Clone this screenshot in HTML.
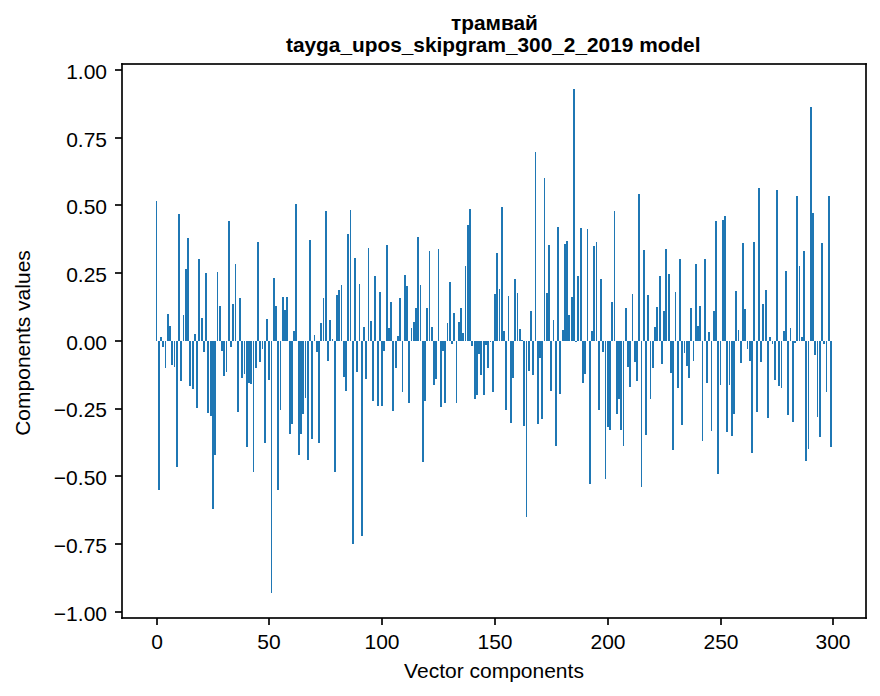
<!DOCTYPE html>
<html lang="ru">
<head>
<meta charset="utf-8">
<title>трамвай - tayga_upos_skipgram_300_2_2019 model</title>
<style>
html,body{margin:0;padding:0;background:#fff;font-family:"Liberation Sans",sans-serif;}
body{width:880px;height:696px;overflow:hidden;}
svg{display:block;}
</style>
</head>
<body>
<svg width="880" height="696" viewBox="0 0 880 696">
<title>Bar chart of vector components</title>
<rect x="0" y="0" width="880" height="696" fill="#fff"/>
<path d="M156 201h1v140h-1zM158 341h2v149h-2zM160 337h2v4h-2zM162 341h2v6h-2zM165 341h1v27h-1zM167 314h2v27h-2zM169 326h2v15h-2zM171 341h2v24h-2zM174 341h1v26h-1zM176 341h2v126h-2zM178 214h2v127h-2zM180 341h2v40h-2zM183 315h1v26h-1zM185 269h2v72h-2zM187 238h2v103h-2zM189 341h2v45h-2zM192 341h2v48h-2zM194 334h2v7h-2zM196 341h2v67h-2zM198 259h2v82h-2zM201 318h2v23h-2zM203 341h2v11h-2zM205 273h2v68h-2zM207 341h2v72h-2zM210 341h2v75h-2zM212 341h2v168h-2zM214 341h2v114h-2zM217 272h1v69h-1zM219 306h2v35h-2zM221 341h2v10h-2zM223 341h2v35h-2zM226 341h1v31h-1zM228 221h2v120h-2zM230 341h2v6h-2zM232 304h2v37h-2zM235 264h1v77h-1zM237 341h2v71h-2zM239 298h2v43h-2zM241 341h2v37h-2zM244 341h1v33h-1zM246 341h2v106h-2zM248 341h2v42h-2zM250 341h2v43h-2zM253 341h1v131h-1zM255 341h2v27h-2zM257 242h2v99h-2zM259 341h2v21h-2zM262 341h1v8h-1zM264 341h2v102h-2zM266 319h2v22h-2zM268 341h2v39h-2zM271 341h1v252h-1zM273 278h2v63h-2zM275 306h2v35h-2zM277 341h2v149h-2zM280 341h1v69h-1zM282 297h2v44h-2zM284 310h2v31h-2zM286 297h2v44h-2zM289 341h2v93h-2zM291 341h2v83h-2zM293 331h2v10h-2zM295 204h2v137h-2zM298 341h2v114h-2zM300 341h2v93h-2zM302 341h2v73h-2zM305 341h1v57h-1zM307 341h2v119h-2zM309 240h2v101h-2zM311 341h2v98h-2zM314 335h1v6h-1zM316 341h2v11h-2zM318 341h2v102h-2zM320 323h2v18h-2zM323 298h1v43h-1zM325 211h2v130h-2zM327 341h2v20h-2zM329 320h2v21h-2zM332 339h1v2h-1zM334 341h2v131h-2zM336 295h2v46h-2zM338 290h2v51h-2zM341 285h1v56h-1zM343 341h2v36h-2zM345 341h2v50h-2zM347 234h2v107h-2zM350 210h1v131h-1zM352 341h2v203h-2zM354 258h2v83h-2zM356 341h2v31h-2zM359 284h1v57h-1zM361 341h2v195h-2zM363 327h2v14h-2zM365 341h2v38h-2zM368 248h1v93h-1zM370 321h2v20h-2zM372 341h2v60h-2zM374 276h2v65h-2zM377 341h2v65h-2zM379 292h2v49h-2zM381 341h2v65h-2zM383 341h2v10h-2zM386 245h2v96h-2zM388 328h2v13h-2zM390 302h2v39h-2zM392 341h2v70h-2zM395 341h2v27h-2zM397 336h2v5h-2zM399 298h2v43h-2zM402 341h1v51h-1zM404 275h2v66h-2zM406 286h2v55h-2zM408 341h2v62h-2zM411 328h1v13h-1zM413 322h2v19h-2zM415 308h2v33h-2zM417 237h2v104h-2zM420 285h1v56h-1zM422 341h2v121h-2zM424 341h2v60h-2zM426 308h2v33h-2zM429 251h1v90h-1zM431 327h2v14h-2zM433 341h2v44h-2zM435 341h2v38h-2zM438 249h1v92h-1zM440 341h2v66h-2zM442 341h2v10h-2zM444 341h2v62h-2zM447 323h1v18h-1zM449 282h2v59h-2zM451 341h2v3h-2zM453 313h2v28h-2zM456 341h1v62h-1zM458 322h2v19h-2zM460 308h2v33h-2zM462 333h2v8h-2zM465 266h1v75h-1zM467 225h2v116h-2zM469 209h2v132h-2zM471 341h2v5h-2zM474 341h2v58h-2zM476 341h2v54h-2zM478 341h2v13h-2zM480 341h2v34h-2zM483 341h2v54h-2zM485 341h2v4h-2zM487 341h2v27h-2zM490 341h1v1h-1zM492 341h2v51h-2zM494 294h2v47h-2zM496 253h2v88h-2zM499 289h1v52h-1zM501 207h2v134h-2zM503 331h2v10h-2zM505 341h2v69h-2zM508 296h1v45h-1zM510 341h2v82h-2zM512 341h2v37h-2zM514 279h2v62h-2zM517 293h1v48h-1zM519 329h2v12h-2zM521 340h2v1h-2zM523 341h2v85h-2zM526 341h1v176h-1zM528 341h2v30h-2zM530 311h2v30h-2zM532 341h2v34h-2zM535 152h1v189h-1zM537 341h2v83h-2zM539 341h2v17h-2zM541 341h2v78h-2zM544 178h1v163h-1zM546 293h2v48h-2zM548 245h2v96h-2zM550 341h2v50h-2zM553 320h1v21h-1zM555 341h2v105h-2zM557 227h2v114h-2zM559 341h2v53h-2zM562 330h2v11h-2zM564 244h2v97h-2zM566 241h2v100h-2zM568 315h2v26h-2zM571 297h2v44h-2zM573 89h2v252h-2zM575 341h2v1h-2zM577 276h2v65h-2zM580 228h2v113h-2zM582 341h2v42h-2zM584 341h2v33h-2zM587 229h1v112h-1zM589 341h2v143h-2zM591 331h2v10h-2zM593 246h2v95h-2zM596 242h1v99h-1zM598 341h2v69h-2zM600 279h2v62h-2zM602 341h2v11h-2zM605 341h1v138h-1zM607 341h2v86h-2zM609 341h2v89h-2zM611 302h2v39h-2zM614 211h1v130h-1zM616 341h2v73h-2zM618 341h2v58h-2zM620 341h2v89h-2zM623 341h1v105h-1zM625 308h2v33h-2zM627 341h2v26h-2zM629 341h2v46h-2zM632 294h1v47h-1zM634 341h2v21h-2zM636 341h2v40h-2zM638 194h2v147h-2zM641 341h1v146h-1zM643 250h2v91h-2zM645 341h2v94h-2zM647 295h2v46h-2zM650 341h1v58h-1zM652 341h2v27h-2zM654 327h2v14h-2zM656 307h2v34h-2zM659 276h2v65h-2zM661 341h2v23h-2zM663 311h2v30h-2zM665 249h2v92h-2zM668 274h2v67h-2zM670 341h2v32h-2zM672 341h2v109h-2zM675 292h1v49h-1zM677 341h2v47h-2zM679 259h2v82h-2zM681 341h2v84h-2zM684 341h1v12h-1zM686 341h2v25h-2zM688 341h2v37h-2zM690 308h2v33h-2zM693 341h1v20h-1zM695 264h2v77h-2zM697 326h2v15h-2zM699 306h2v35h-2zM702 341h1v100h-1zM704 259h2v82h-2zM706 341h2v42h-2zM708 332h2v9h-2zM711 341h1v90h-1zM713 311h2v30h-2zM715 221h2v120h-2zM717 341h2v133h-2zM720 341h1v44h-1zM722 220h2v121h-2zM724 216h2v125h-2zM726 341h2v91h-2zM729 341h1v44h-1zM731 341h2v95h-2zM733 341h2v73h-2zM735 291h2v50h-2zM738 330h1v11h-1zM740 341h2v22h-2zM742 243h2v98h-2zM744 309h2v32h-2zM747 341h1v8h-1zM749 341h2v20h-2zM751 341h2v112h-2zM753 242h2v99h-2zM756 341h2v71h-2zM758 188h2v153h-2zM760 341h2v21h-2zM762 304h2v37h-2zM765 290h2v51h-2zM767 341h2v77h-2zM769 337h2v4h-2zM772 341h1v3h-1zM774 341h2v39h-2zM776 190h2v151h-2zM778 341h2v45h-2zM781 341h1v47h-1zM783 331h2v10h-2zM785 271h2v70h-2zM787 341h2v74h-2zM790 328h1v13h-1zM792 341h2v81h-2zM794 341h2v2h-2zM796 196h2v145h-2zM799 266h1v75h-1zM801 337h2v4h-2zM803 251h2v90h-2zM805 341h2v120h-2zM808 341h1v108h-1zM810 107h2v234h-2zM812 213h2v128h-2zM814 341h2v14h-2zM817 341h1v76h-1zM819 341h2v96h-2zM821 243h2v98h-2zM823 341h2v3h-2zM826 341h1v51h-1zM828 196h2v145h-2zM830 341h2v106h-2z" fill="#1f77b4" shape-rendering="crispEdges"/>
<g shape-rendering="crispEdges">
<rect x="121" y="63" width="2" height="556" fill="#000" fill-opacity="0.8353"/>
<rect x="865" y="63" width="2" height="556" fill="#000" fill-opacity="0.8353"/>
<rect x="123" y="63" width="742" height="2" fill="#000" fill-opacity="0.8353"/>
<rect x="123" y="617" width="742" height="2" fill="#000" fill-opacity="0.8353"/>
<rect x="121" y="63" width="1" height="1" fill="rgb(23,23,23)"/>
<rect x="122" y="63" width="1" height="1" fill="rgb(12,12,12)"/>
<rect x="121" y="64" width="1" height="1" fill="rgb(12,12,12)"/>
<rect x="122" y="64" width="1" height="1" fill="rgb(7,7,7)"/>
<rect x="866" y="63" width="1" height="1" fill="rgb(23,23,23)"/>
<rect x="865" y="63" width="1" height="1" fill="rgb(12,12,12)"/>
<rect x="866" y="64" width="1" height="1" fill="rgb(12,12,12)"/>
<rect x="865" y="64" width="1" height="1" fill="rgb(7,7,7)"/>
<rect x="121" y="618" width="1" height="1" fill="rgb(23,23,23)"/>
<rect x="122" y="618" width="1" height="1" fill="rgb(12,12,12)"/>
<rect x="121" y="617" width="1" height="1" fill="rgb(12,12,12)"/>
<rect x="122" y="617" width="1" height="1" fill="rgb(7,7,7)"/>
<rect x="866" y="618" width="1" height="1" fill="rgb(23,23,23)"/>
<rect x="865" y="618" width="1" height="1" fill="rgb(12,12,12)"/>
<rect x="866" y="617" width="1" height="1" fill="rgb(12,12,12)"/>
<rect x="865" y="617" width="1" height="1" fill="rgb(7,7,7)"/>
<rect x="115" y="69" width="7" height="2" fill="#000" fill-opacity="0.8353"/>
<rect x="115" y="137" width="7" height="2" fill="#000" fill-opacity="0.8353"/>
<rect x="115" y="204" width="7" height="2" fill="#000" fill-opacity="0.8353"/>
<rect x="115" y="272" width="7" height="2" fill="#000" fill-opacity="0.8353"/>
<rect x="115" y="340" width="7" height="2" fill="#000" fill-opacity="0.8353"/>
<rect x="115" y="408" width="7" height="2" fill="#000" fill-opacity="0.8353"/>
<rect x="115" y="475" width="7" height="2" fill="#000" fill-opacity="0.8353"/>
<rect x="115" y="543" width="7" height="2" fill="#000" fill-opacity="0.8353"/>
<rect x="115" y="611" width="7" height="2" fill="#000" fill-opacity="0.8353"/>
<rect x="156" y="618" width="2" height="7" fill="#000" fill-opacity="0.8353"/>
<rect x="268" y="618" width="2" height="7" fill="#000" fill-opacity="0.8353"/>
<rect x="381" y="618" width="2" height="7" fill="#000" fill-opacity="0.8353"/>
<rect x="494" y="618" width="2" height="7" fill="#000" fill-opacity="0.8353"/>
<rect x="607" y="618" width="2" height="7" fill="#000" fill-opacity="0.8353"/>
<rect x="720" y="618" width="2" height="7" fill="#000" fill-opacity="0.8353"/>
<rect x="832" y="618" width="2" height="7" fill="#000" fill-opacity="0.8353"/>
</g>
<g font-family="'Liberation Sans', sans-serif" font-size="21" fill="#000">
<text x="451" y="30" font-size="20.83" font-weight="bold">трамвай</text>
<text x="286" y="52" font-size="20.83" font-weight="bold">tayga_upos_skipgram_300_2_2019 model</text>
<text x="494" y="678" text-anchor="middle">Vector components</text>
<text x="30" y="343" text-anchor="middle" transform="rotate(-90 30 343)">Components values</text>
<text x="157" y="649" text-anchor="middle">0</text>
<text x="269" y="649" text-anchor="middle">50</text>
<text x="382" y="649" text-anchor="middle">100</text>
<text x="495" y="649" text-anchor="middle">150</text>
<text x="608" y="649" text-anchor="middle">200</text>
<text x="721" y="649" text-anchor="middle">250</text>
<text x="833" y="649" text-anchor="middle">300</text>
<text x="107" y="621" text-anchor="end">−1.00</text>
<text x="107" y="553" text-anchor="end">−0.75</text>
<text x="107" y="485" text-anchor="end">−0.50</text>
<text x="107" y="417" text-anchor="end">−0.25</text>
<text x="107" y="350" text-anchor="end">0.00</text>
<text x="107" y="282" text-anchor="end">0.25</text>
<text x="107" y="214" text-anchor="end">0.50</text>
<text x="107" y="147" text-anchor="end">0.75</text>
<text x="107" y="79" text-anchor="end">1.00</text>
</g>
</svg>
</body>
</html>
